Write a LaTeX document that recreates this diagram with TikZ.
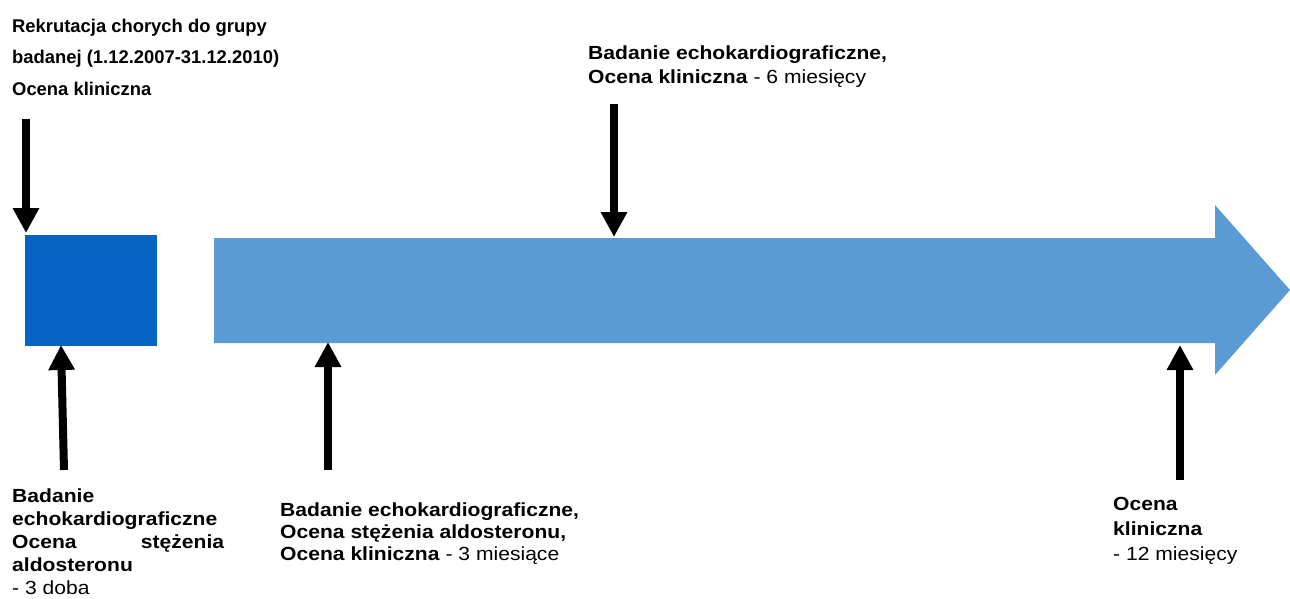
\documentclass[tikz,border=0pt]{standalone}
\usepackage{fontspec}
\setmainfont{Liberation Sans}
\newfontfamily\widefont[FakeStretch=1.11]{Liberation Sans}
\usetikzlibrary{arrows.meta,positioning}

\definecolor{startblue}{HTML}{0563C1}
\definecolor{timeblue}{HTML}{5B9BD5}

\tikzset{
  pointer/.style={line width=8pt, -{Triangle[length=25pt,width=25pt]}},
  stage/.style={anchor=base west, align=left, inner sep=0pt,
    font=\widefont\fontsize{19}{22}\selectfont},
}

\begin{document}
\begin{tikzpicture}[x=1pt,y=-1pt]
  \useasboundingbox (0,0) rectangle (1290,598);

  % Blok startowy i os czasu
  \node[fill=startblue, minimum width=132pt, minimum height=111pt,
        inner sep=0pt, anchor=north west] (start) at (25,235) {};
  \fill[timeblue] (214,238) -- (1215,238) -- (1215,205) -- (1290,290)
        -- (1215,375) -- (1215,343) -- (214,343) -- cycle;

  % Punkty zaczepienia strzalek
  \coordinate (recTail) at (26,119);
  \coordinate (recTip) at (26,233);
  \coordinate (d3Tail) at (64,470);
  \coordinate (d3Tip) at (61,345);
  \coordinate (m3Tail) at (328,470);
  \coordinate (m3Tip) at (328,342);
  \coordinate (m6Tail) at (614,104);
  \coordinate (m6Tip) at (614,237);
  \coordinate (m12Tail) at (1180,480);
  \coordinate (m12Tip) at (1180,345);

  % Opisy etapow (kotwica = linia bazowa ostatniego wiersza)
  \node[anchor=base west, align=left, inner sep=0pt,
        font=\bfseries\fontsize{18.4}{31.5}\selectfont] (recruit) at (12,95)
        {Rekrutacja chorych do grupy\\badanej (1.12.2007-31.12.2010)\\Ocena kliniczna};
  \node[stage, font=\widefont\fontsize{19}{22.8}\selectfont] (day3) at (12,594)
        {\textbf{Badanie}\\\textbf{echokardiograficzne}\\
         \textbf{\makebox[212pt][s]{Ocena\hfill stężenia}}\\\textbf{aldosteronu}\\- 3 doba};
  \node[stage] (month3) at (280,560)
        {\textbf{Badanie echokardiograficzne,}\\\textbf{Ocena stężenia aldosteronu,}\\
         \textbf{Ocena kliniczna} - 3 miesiące};
  \node[stage, font=\widefont\fontsize{19}{24}\selectfont] (month6) at (588,83)
        {\textbf{Badanie echokardiograficzne,}\\\textbf{Ocena kliniczna} - 6 miesięcy};
  \node[stage, font=\widefont\fontsize{19}{25}\selectfont] (month12) at (1113,560)
        {\textbf{Ocena}\\\textbf{kliniczna}\\- 12 miesięcy};

  % Strzalki
  \draw[pointer] (recTail) -- (recTip);
  \draw[pointer] (d3Tail) -- (d3Tip);
  \draw[pointer] (m3Tail) -- (m3Tip);
  \draw[pointer] (m6Tail) -- (m6Tip);
  \draw[pointer] (m12Tail) -- (m12Tip);
\end{tikzpicture}
\end{document}
